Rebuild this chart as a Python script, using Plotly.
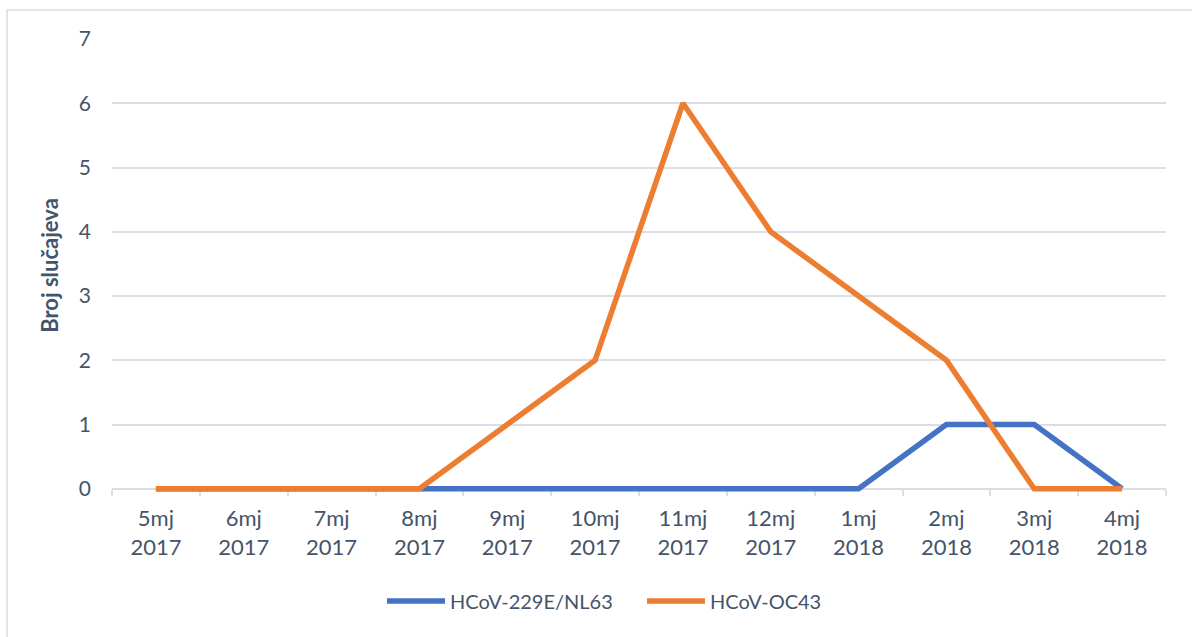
import plotly.graph_objects as go

months = ["5mj", "6mj", "7mj", "8mj", "9mj", "10mj", "11mj", "12mj", "1mj", "2mj", "3mj", "4mj"]
years = ["2017"] * 8 + ["2018"] * 4
categories = [f"{m}<br>{y}" for m, y in zip(months, years)]
nl63 = [0, 0, 0, 0, 0, 0, 0, 0, 0, 1, 1, 0]
oc43 = [0, 0, 0, 0, 1, 2, 6, 4, 3, 2, 0, 0]

W, H = 1192, 637
L, R, T, B = 112, 26, 39, 145
pw, ph = W - L - R, H - T - B
ymin, ymax = -0.05, 7
txt = "#44546A"
grid = "#DADFE6"
font = "Lato"

fig = go.Figure()
fig.add_trace(go.Scatter(x=categories, y=nl63, mode="lines", name="HCoV-229E/NL63",
                         line=dict(color="#4472C4", width=5.5)))
fig.add_trace(go.Scatter(x=categories, y=oc43, mode="lines", name="HCoV-OC43",
                         line=dict(color="#ED7D31", width=5.5)))

def px_x(p):
    return (p - L) / pw

def px_y(p):
    return (H - B - p) / ph

fig.add_shape(type="rect", xref="paper", yref="paper",
              x0=px_x(7), x1=px_x(1200), y0=px_y(650), y1=px_y(10),
              line=dict(color="#D9DEE4", width=1.5), fillcolor="rgba(0,0,0,0)", layer="below")

fig.update_layout(
    width=W, height=H,
    margin=dict(l=L, r=R, t=T, b=B),
    plot_bgcolor="white", paper_bgcolor="white",
    font=dict(family=font, size=21, color=txt),
    showlegend=True,
    legend=dict(orientation="h", x=px_x(382), y=px_y(601), xanchor="left", yanchor="middle",
                font=dict(family=font, size=20, color=txt), itemwidth=58,
                entrywidth=187, entrywidthmode="pixels"),
    xaxis=dict(type="category", range=[-0.5, len(categories) - 0.5],
               anchor="free", position=(0 - ymin) / (ymax - ymin),
               showline=True, linecolor=grid, linewidth=1.5, layer="below traces",
               ticks="outside", tickson="boundaries", ticklen=6, tickcolor=grid, tickwidth=1.5,
               ticklabelstandoff=10,
               showgrid=False, tickfont=dict(family=font, size=22, color=txt)),
    yaxis=dict(range=[ymin, ymax], tickvals=[0, 1, 2, 3, 4, 5, 6, 7], showgrid=True,
               gridcolor=grid, gridwidth=1.5, zeroline=False, showline=False,
               layer="below traces",
               ticklabelstandoff=20, tickfont=dict(family=font, size=21, color=txt),
               title=dict(text="<b>Broj slučajeva</b>", font=dict(family=font, size=22, color=txt),
                          standoff=14)),
)

fig.write_html("out.html", config={"displayModeBar": False},
               post_script="document.body.style.margin='0';")
